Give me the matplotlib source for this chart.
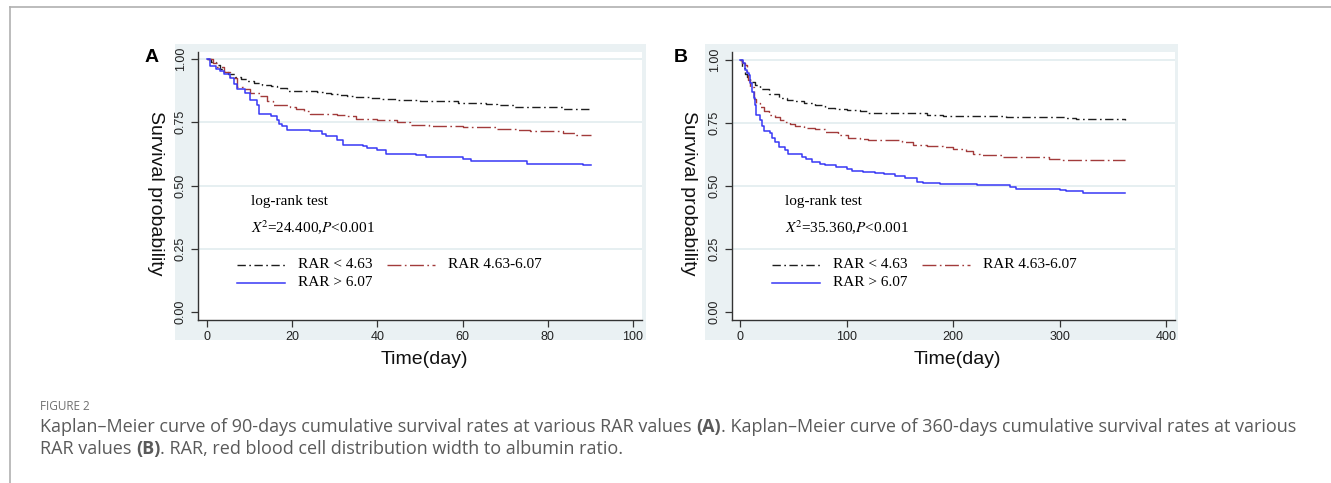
import matplotlib
matplotlib.use("Agg")
import matplotlib.pyplot as plt
from matplotlib.patches import Rectangle
from matplotlib.lines import Line2D

# ---- data (Kaplan-Meier step functions) ----
# panel A, 90 days
a_low_t = [0, 1, 2, 3, 4, 5, 6.5, 8, 9.5, 11, 13, 15, 16.4, 18.75, 22, 25.8, 27.5, 29, 31, 32.8, 35, 38, 41,
           44.5, 50, 56, 59, 65.6, 68, 72, 78, 83.6, 90.2]
a_low_s = [1.0, 0.99, 0.975, 0.96, 0.95, 0.94, 0.93, 0.92, 0.912, 0.905, 0.898, 0.892, 0.885, 0.875, 0.874,
           0.87, 0.866, 0.862, 0.857, 0.852, 0.849, 0.846, 0.843, 0.837, 0.835, 0.833, 0.826, 0.821, 0.819,
           0.811, 0.809, 0.802, 0.802]
a_mid_t = [0, 1.5, 2.3, 4, 5.5, 7, 8.5, 10, 12.5, 14, 15.6, 17, 19.5, 21, 22.7, 24.2, 30.5, 32.8, 35, 40, 44.5,
           47.7, 52, 60, 65.6, 68, 72.7, 75.8, 80, 83.6, 86.7, 90.2]
a_mid_s = [1.0, 0.985, 0.97, 0.95, 0.925, 0.889, 0.88, 0.866, 0.852, 0.833, 0.819, 0.817, 0.81, 0.802, 0.793,
           0.783, 0.78, 0.773, 0.763, 0.758, 0.75, 0.74, 0.734, 0.733, 0.73, 0.723, 0.721, 0.717, 0.714, 0.707,
           0.701, 0.7]
a_high_t = [0, 0.8, 2, 3, 4, 5.5, 6.3, 7, 9, 10, 11.7, 12.1, 15, 16.4, 17, 17.6, 18.75, 24.2, 27, 28, 30.5, 32,
            36.7, 37.5, 40, 42, 49, 51.5, 60, 62, 75, 88.3, 90.2]
a_high_s = [1.0, 0.971, 0.96, 0.951, 0.94, 0.925, 0.9, 0.881, 0.866, 0.839, 0.82, 0.784, 0.776, 0.76, 0.745,
            0.734, 0.721, 0.714, 0.704, 0.694, 0.681, 0.661, 0.655, 0.648, 0.639, 0.626, 0.622, 0.613, 0.606,
            0.598, 0.585, 0.58, 0.58]

# panel B, 360 days
b_low_t = [0, 2, 4.7, 6.3, 9.4, 14, 18.75, 26.6, 36, 44, 51.6, 60, 70, 80, 89, 100, 112.5, 119, 175, 190, 250,
           305, 315, 361]
b_low_s = [1.0, 0.97, 0.945, 0.934, 0.915, 0.901, 0.885, 0.868, 0.851, 0.843, 0.838, 0.83, 0.822, 0.812, 0.806,
           0.801, 0.799, 0.789, 0.782, 0.778, 0.773, 0.77, 0.765, 0.762]
b_mid_t = [0, 2, 4.7, 6, 7.5, 9.4, 12.5, 15, 18.75, 22, 26.6, 33, 37.5, 42, 47, 51.6, 60, 70, 80, 92, 101.6,
           112.5, 120, 151.6, 162.5, 175, 190, 200, 212, 219, 225, 247, 256, 290, 300, 361]
b_mid_s = [1.0, 0.99, 0.98, 0.95, 0.92, 0.894, 0.848, 0.83, 0.815, 0.8, 0.782, 0.775, 0.763, 0.756, 0.746,
           0.739, 0.733, 0.727, 0.716, 0.703, 0.693, 0.688, 0.683, 0.674, 0.664, 0.66, 0.654, 0.646, 0.64,
           0.627, 0.623, 0.617, 0.614, 0.609, 0.603, 0.603]
b_high_t = [0, 2.2, 4, 6, 7.8, 9, 11, 12.5, 14, 14.7, 18.75, 20, 21.9, 28, 30, 32.8, 36, 42, 45, 58, 62, 67,
            75, 80, 90, 100, 105, 115, 126.5, 135, 145, 155, 166, 172, 187.5, 222, 253, 259, 300, 306, 322, 361]
b_high_s = [1.0, 0.99, 0.96, 0.95, 0.94, 0.91, 0.875, 0.85, 0.822, 0.782, 0.762, 0.74, 0.719, 0.71, 0.69,
            0.677, 0.657, 0.644, 0.627, 0.617, 0.606, 0.598, 0.59, 0.584, 0.577, 0.567, 0.562, 0.557, 0.552,
            0.547, 0.542, 0.532, 0.518, 0.511, 0.507, 0.503, 0.497, 0.487, 0.484, 0.48, 0.474, 0.474]

group_labels = ["RAR < 4.63", "RAR 4.63-6.07", "RAR > 6.07"]
yticks = [0.0, 0.25, 0.5, 0.75, 1.0]
xticks_a = [0, 20, 40, 60, 80, 100]
xticks_b = [0, 100, 200, 300, 400]
stats_a = "24.400"
stats_b = "35.360"

W, H = 1331, 483
fig = plt.figure(figsize=(W / 100, H / 100), dpi=100)

c_low, c_mid, c_high = "#1e1e1e", "#a23b3b", "#3838f5"
st_low = dict(color=c_low, lw=1.0, dashes=(6, 2.5, 1.2, 2.5))
st_mid = dict(color=c_mid, lw=1.0, dashes=(10, 2.5, 1.2, 2.5))
st_high = dict(color=c_high, lw=1.1)
bg = "#eaf1f3"
serif = "Liberation Serif"
sans = "Liberation Sans"


def fx(px):
    return px / W


def fy(py):
    return 1 - py / H


# frame lines of the page
fig.add_artist(Line2D([fx(10), fx(10)], [fy(7), 0], color="#b0b0b0", lw=1.2))
fig.add_artist(Line2D([fx(10), 1], [fy(7), fy(7)], color="#b0b0b0", lw=1.2))


def panel(box, plot, xlim, ylim, xticks, curves, letter, letter_xy, stat, txt_x, leg_x, xlab_y):
    x0, y0, x1, y1 = box
    fig.add_artist(Rectangle((fx(x0), fy(y1)), fx(x1 - x0), (y1 - y0) / H,
                             facecolor=bg, edgecolor="none", zorder=0))
    px0, py0, px1, py1 = plot
    ax = fig.add_axes([fx(px0), fy(py1), fx(px1 - px0), (py1 - py0) / H])
    ax.set_facecolor("white")
    for yv in yticks:
        if yv > 0:
            ax.axhline(yv, color="#e4eef0", lw=1.3, zorder=0)
    for (t, s), st in zip(curves, [st_low, st_mid, st_high]):
        ax.step(t, s, where="post", **st)
    ax.set_xlim(*xlim)
    ax.set_ylim(*ylim)
    ax.set_xticks(xticks)
    ax.set_yticks(yticks)
    ax.set_yticklabels(["%.2f" % v for v in yticks], rotation=90, va="center",
                       fontsize=9, family=sans, color="#222222")
    ax.set_xticklabels([str(v) for v in xticks], fontsize=9, family=sans, color="#222222")
    ax.tick_params(direction="out", length=5, width=0.9, color="#333333", pad=3)
    for sp in ["top", "right"]:
        ax.spines[sp].set_visible(False)
    for sp in ["left", "bottom"]:
        ax.spines[sp].set_color("#333333")
        ax.spines[sp].set_linewidth(1.0)
    fig.text(fx(px0 - 43), fy(193), "Survival probability", fontsize=14, family=sans,
             rotation=270, ha="center", va="center", color="#111111")
    fig.text(fx((px0 + px1) / 2 + 4), fy(xlab_y), "Time(day)", fontsize=14, family=sans,
             ha="center", va="center", color="#111111")
    fig.text(fx(letter_xy[0]), fy(letter_xy[1]), letter, fontsize=14, family=sans,
             weight="bold", ha="center", va="center")

    fig.text(fx(txt_x), fy(202), "log-rank test", fontsize=11, family=serif, va="center")
    fig.text(fx(txt_x), fy(228), r"$\mathit{X}^{\!2}$=" + stat + r",$\mathit{P}$<0.001",
             fontsize=11, family=serif, va="center", math_fontfamily="stix")

    # legend
    rows = [(leg_x, 265, st_low, group_labels[0]),
            (leg_x + 150, 265, st_mid, group_labels[1]),
            (leg_x, 283, st_high, group_labels[2])]
    for lx, ly, st, lab in rows:
        fig.add_artist(Line2D([fx(lx), fx(lx + 48)], [fy(ly), fy(ly)], **st))
        fig.text(fx(lx + 61), fy(ly), lab, fontsize=11, family=serif, va="center")
    return ax


panel((175, 44, 646, 340), (198, 52, 642, 320), (-2.11, 102.1), (-0.0316, 1.0277),
      xticks_a, [(a_low_t, a_low_s), (a_mid_t, a_mid_s), (a_high_t, a_high_s)],
      "A", (152, 57), stats_a, 251, 237, 360)
panel((705, 44, 1178, 340), (732, 52, 1175, 320), (-7.8, 408.4), (-0.0316, 1.033),
      xticks_b, [(b_low_t, b_low_s), (b_mid_t, b_mid_s), (b_high_t, b_high_s)],
      "B", (681, 57), stats_b, 785, 772, 359)

# caption
cap_font = "Open Sans"
cap_col = "#5a5a5a"
fig.text(fx(40), fy(406), "FIGURE 2", fontsize=8.5, family=cap_font, color="#707070", va="center")


def rich_line(x, y, parts):
    renderer = fig.canvas.get_renderer()
    cx = x
    for s, bold in parts:
        t = fig.text(fx(cx), fy(y), s, fontsize=12.95, family=cap_font, color=cap_col,
                     weight="bold" if bold else "normal", va="center")
        cx += t.get_window_extent(renderer).width


rich_line(40, 427, [("Kaplan\u2013Meier curve of 90-days cumulative survival rates at various RAR values ", False),
                    ("(A)", True),
                    (". Kaplan\u2013Meier curve of 360-days cumulative survival rates at various", False)])
rich_line(40, 449, [("RAR values ", False), ("(B)", True),
                    (". RAR, red blood cell distribution width to albumin ratio.", False)])

fig.savefig("out.png", dpi=100, facecolor="white")
